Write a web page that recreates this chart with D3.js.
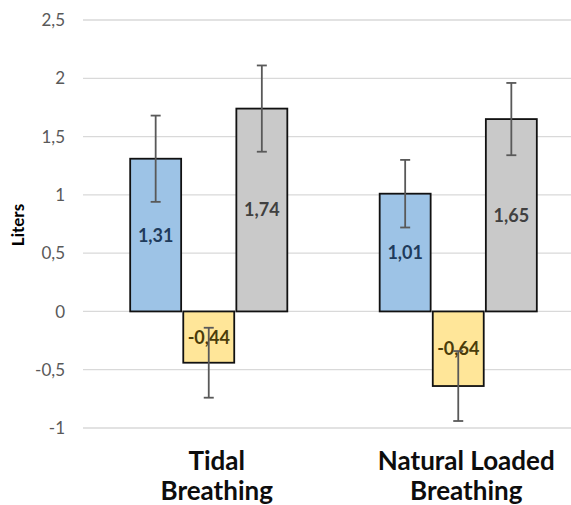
<!DOCTYPE html>
<html>
<head>
<meta charset="utf-8">
<script src="https://cdn.jsdelivr.net/npm/d3@7"></script>
<style>
  body { margin: 0; background: #fff; }
  svg { display: block; }
</style>
</head>
<body>
<svg></svg>
<script>
// chart values
var categories = ["Tidal Breathing", "Natural Loaded Breathing"];
var catLines = [["Tidal", "Breathing"], ["Natural Loaded", "Breathing"]];
var series = ["blue", "yellow", "grey"];
var blueVals = [1.31, 1.01];
var yellowVals = [-0.44, -0.64];
var greyVals = [1.74, 1.65];
var blueErr = [0.37, 0.29];
var yellowErr = [0.30, 0.30];
var greyErr = [0.37, 0.31];
var yTicks = [-1, -0.5, 0, 0.5, 1, 1.5, 2, 2.5];

var fills = { blue: "#9dc3e6", yellow: "#ffe699", grey: "#c9c9c9" };
var labelColors = { blue: "#1f3b5c", yellow: "#4a3c0a", grey: "#404040" };

var width = 571,
  height = 505;

var svg = d3.select('svg')
  .attr('width', width)
  .attr('height', height);

var y = d3.scaleLinear().domain([-1, 2.5]).range([428, 20]);
var x0 = d3.scaleBand().domain(categories).range([84, 583]);
var x1 = d3.scaleBand().domain(series).range([0, x0.bandwidth()])
  .paddingInner(0.04).paddingOuter(0.87);

var rows = [];
categories.forEach(function(c, i) {
  rows.push({ cat: c, s: "blue", v: blueVals[i], e: blueErr[i] });
  rows.push({ cat: c, s: "yellow", v: yellowVals[i], e: yellowErr[i] });
  rows.push({ cat: c, s: "grey", v: greyVals[i], e: greyErr[i] });
});

var comma = v => String(v).replace('.', ',').replace('\u2212', '-');

// gridlines
svg.append('g').selectAll('line').data(yTicks).join('line')
  .attr('x1', 83).attr('x2', width)
  .attr('y1', d => y(d)).attr('y2', d => y(d))
  .attr('stroke', '#d9d9d9').attr('stroke-width', 1.3);

// y tick labels
svg.append('g').selectAll('text').data(yTicks).join('text')
  .attr('x', 65).attr('y', d => y(d)).attr('dy', '0.36em')
  .attr('text-anchor', 'end')
  .attr('font-family', 'Lato, sans-serif').attr('font-size', 17)
  .attr('fill', '#595959')
  .text(d => comma(d));

svg.append('text')
  .attr('transform', 'translate(24,225) rotate(-90)')
  .attr('text-anchor', 'middle')
  .attr('font-family', 'Lato, sans-serif').attr('font-size', 17)
  .attr('font-weight', 'bold').attr('fill', '#000')
  .text('Liters');

var bx = d => x0(d.cat) + x1(d.s);

// bars
svg.append('g').selectAll('rect').data(rows).join('rect')
  .attr('x', bx)
  .attr('y', d => y(Math.max(0, d.v)))
  .attr('width', x1.bandwidth())
  .attr('height', d => Math.abs(y(d.v) - y(0)))
  .attr('fill', d => fills[d.s])
  .attr('stroke', '#111').attr('stroke-width', 1.8);

// value labels
svg.append('g').selectAll('text').data(rows).join('text')
  .attr('x', d => bx(d) + x1.bandwidth() / 2)
  .attr('y', d => (y(d.v) + y(0)) / 2)
  .attr('dy', '0.36em')
  .attr('text-anchor', 'middle')
  .attr('font-family', 'Lato, sans-serif').attr('font-size', 18)
  .attr('font-weight', 'bold')
  .attr('fill', d => labelColors[d.s])
  .text(d => comma(d3.format('.2f')(d.v)));

// error bars
var eb = svg.append('g').attr('stroke', '#595959').attr('stroke-width', 1.8);
rows.forEach(function(d) {
  var cx = bx(d) + x1.bandwidth() / 2;
  eb.append('line').attr('x1', cx).attr('x2', cx)
    .attr('y1', y(d.v + d.e)).attr('y2', y(d.v - d.e));
  [d.v + d.e, d.v - d.e].forEach(function(v) {
    eb.append('line').attr('x1', cx - 5).attr('x2', cx + 5)
      .attr('y1', y(v)).attr('y2', y(v));
  });
});

// category labels
var cl = svg.append('g').selectAll('text').data(categories).join('text')
  .attr('text-anchor', 'middle')
  .attr('font-family', 'Lato, sans-serif').attr('font-size', 26)
  .attr('font-weight', 'bold').attr('fill', '#0d0d0d');
cl.selectAll('tspan').data((d, i) => catLines[i].map(t => ({ t: t, c: d }))).join('tspan')
  .attr('x', d => x0(d.c) + x0.bandwidth() / 2 + 8)
  .attr('y', (d, i) => 470 + i * 30)
  .text(d => d.t);
</script>
</body>
</html>
